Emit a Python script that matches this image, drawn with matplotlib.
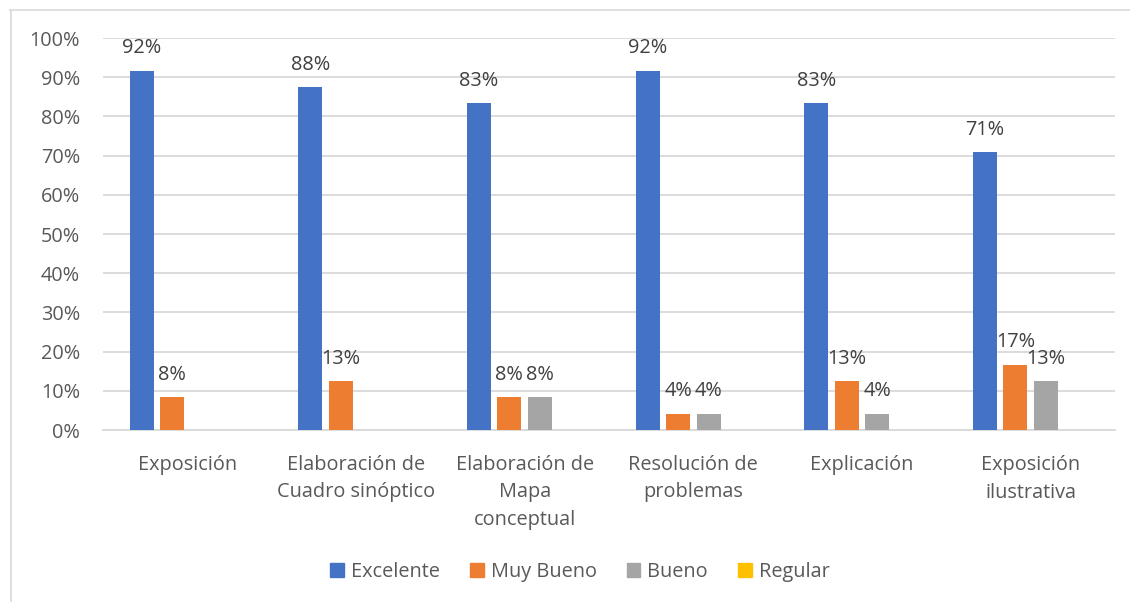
import matplotlib
matplotlib.use("Agg")
import matplotlib.pyplot as plt
from matplotlib.patches import Patch
from matplotlib.lines import Line2D
import numpy as np
import math

plt.rcParams['font.family'] = ['Open Sans', 'DejaVu Sans']

categories = ["Exposición", "Elaboración de\nCuadro sinóptico", "Elaboración de\nMapa\nconceptual",
              "Resolución de\nproblemas", "Explicación", "Exposición\nilustrativa"]
series_names = ["Excelente", "Muy Bueno", "Bueno", "Regular"]
excelente = [91.7, 87.5, 83.3, 91.7, 83.3, 70.8]
muy_bueno = [8.3, 12.5, 8.3, 4.2, 12.5, 16.7]
bueno = [None, None, 8.3, 4.2, 4.2, 12.5]
regular = [None, None, None, None, None, None]
colors = ["#4472C4", "#ED7D31", "#A5A5A5", "#FFC000"]

W, H = 1130, 602
fig = plt.figure(figsize=(W/100, H/100), dpi=100)
ax = fig.add_axes([103/W, 1-430/H, (1115-103)/W, (430-38)/H])

text_color = "#595959"
fs = 14.3
x = np.arange(len(categories))
step = 0.181
bw = 0.142
all_series = [excelente, muy_bueno, bueno, regular]
for i, (vals, c) in enumerate(zip(all_series, colors)):
    off = (i - 1.5) * step
    for j, v in enumerate(vals):
        if v is None:
            continue
        ax.bar(x[j] + off, v, width=bw, color=c, zorder=3)
        ax.annotate(f"{int(math.floor(v + 0.5))}%", (x[j] + off, v), xytext=(0, 9),
                    textcoords="offset points", ha="center", va="bottom", fontsize=fs, color="#404040")

ax.set_xlim(-0.5, len(categories) - 0.5)
ax.set_ylim(0, 100)
ax.set_yticks(np.arange(0, 101, 10))
ax.set_yticklabels([f"{t}%" for t in range(0, 101, 10)])
ax.set_xticks(x)
ax.set_xticklabels(categories, linespacing=1.5, va="top")
ax.tick_params(axis="both", length=0, labelsize=fs, colors=text_color)
ax.tick_params(axis="x", pad=18)
ax.tick_params(axis="y", pad=16.5)
ax.grid(axis="y", color="#D9D9D9", linewidth=1.3, zorder=0)
for s in ["top", "right", "left"]:
    ax.spines[s].set_visible(False)
ax.spines["bottom"].set_color("#D9D9D9")
ax.spines["bottom"].set_linewidth(1.3)

handles = [Patch(facecolor=c, edgecolor=c) for c in colors]
fig.legend(handles, series_names, loc="center", bbox_to_anchor=(0.5 + 15/W, 1-572/H), ncol=4,
           frameon=False, fontsize=fs, labelcolor=text_color, handlelength=0.7, handleheight=0.7,
           handletextpad=0.35, columnspacing=1.5)

fig.add_artist(Line2D([10/W, 1], [1-9.5/H, 1-9.5/H], transform=fig.transFigure,
                      color="#D9D9D9", linewidth=1.2))
fig.add_artist(Line2D([10.5/W, 10.5/W], [0, 1-9.5/H], transform=fig.transFigure,
                      color="#D9D9D9", linewidth=1.2))

fig.savefig("out.png", dpi=100)
